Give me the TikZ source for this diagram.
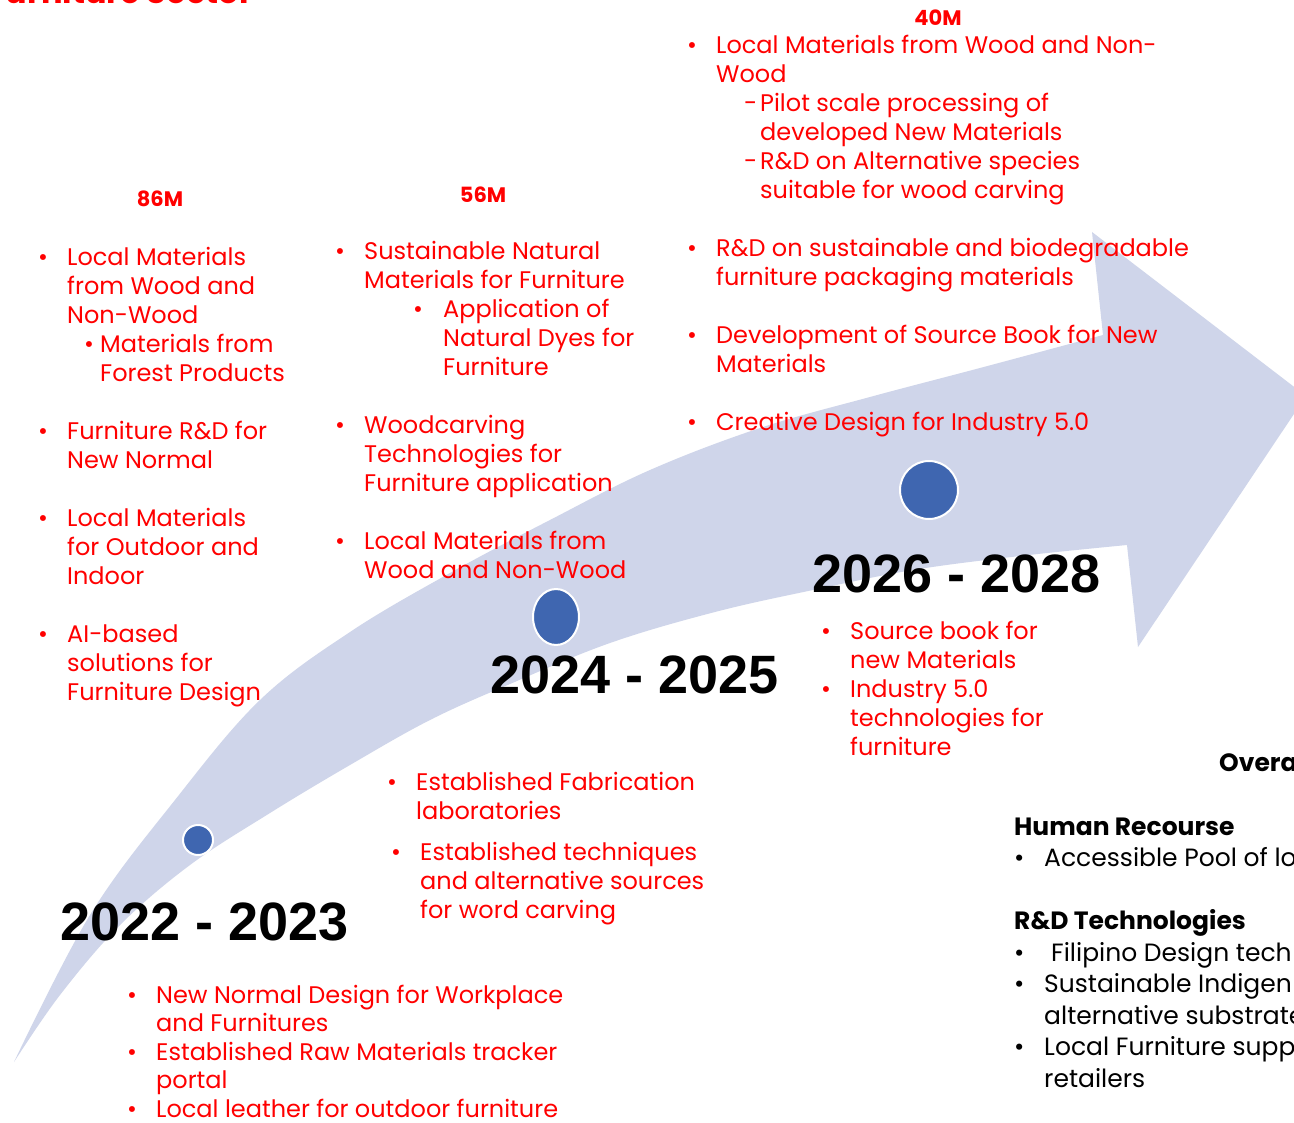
\documentclass[tikz,border=0pt]{standalone}
\usepackage{fontspec}
\setmainfont{Poppins}
\newfontfamily\yearfont{Liberation Sans}
\definecolor{SlideRed}{HTML}{FF0000}
\definecolor{ArrowFill}{HTML}{CFD5EA}
\definecolor{DotBlue}{HTML}{3F66B0}
\usepackage{xcolor}
\usepackage{tikz}
\usetikzlibrary{shapes.geometric}
\newcommand{\bul}{\makebox[25pt][l]{\hspace{-4pt}\textbullet}}

\begin{document}
\begin{tikzpicture}[x=1pt,y=-1pt,
  bodytext/.style={inner sep=0,anchor=base west,font=\fontsize{24}{29}\selectfont},
  redtext/.style={bodytext,text=SlideRed},
  blacktext/.style={bodytext,text=black,font=\fontsize{25}{31.5}\selectfont},
  budget/.style={inner sep=0,text=SlideRed,font=\bfseries\fontsize{21}{25}\selectfont},
  years/.style={inner sep=0,anchor=base west,font=\yearfont\bfseries\fontsize{54}{60}\selectfont},
  dot/.style={draw=white,line width=2pt,fill=DotBlue,inner sep=0}]
  \useasboundingbox (0,0) rectangle (1294,1123);
  \clip (0,0) rectangle (1294,1123);
  \fill[white] (0,0) rectangle (1294,1123);

  % Title (cut by the top edge)
  \node[inner sep=0,anchor=base east,text=SlideRed,font=\bfseries\fontsize{32}{36}\selectfont]
    (title) at (253,4) {Furniture Sector};

  % Curved timeline arrow
  \fill[ArrowFill]
    plot[smooth,tension=0.6] coordinates {(14,1062) (90,915) (175,800) (260,700)
      (350,632) (450,573) (550,520) (650,470) (760,428) (870,397) (980,368) (1103,335)}
    -- (1092,232) -- (1306,396) -- (1138,647) -- (1127,545)
    -- plot[smooth,tension=0.6] coordinates {(1127,545) (1020,556) (913,570) (813,590)
      (715,612) (610,643) (510,684) (430,720) (350,765) (270,813) (190,865)
      (120,925) (60,995) (14,1062)}
    -- cycle;

  % Markers
  \node[dot,circle,minimum size=30pt] (dot1) at (198,840) {};
  \node[dot,ellipse,minimum width=46pt,minimum height=56pt] (dot2) at (556,617) {};
  \node[dot,circle,minimum size=58pt] (dot3) at (929,490) {};

  % Years
  \node[years] (y22) at (60,940) {2022 - 2023};
  \node[years] (y24) at (490,693) {2024 - 2025};
  \node[years] (y26) at (812,592) {2026 - 2028};

  % Budgets
  \node[budget] (b86) at (160,199) {86M};
  \node[budget] (b56) at (483,195) {56M};
  \node[budget] (b40) at (938,18) {40M};

  % 86M column
  \node[redtext] (col86) at (42,266) {\begin{tabular}[t]{@{}l@{}l@{}}
    \bul & Local Materials\\
         & from Wood and\\
         & Non-Wood\\
         & \hspace{17pt}\makebox[16pt][l]{\textbullet}Materials from\\
         & \hspace{33pt}Forest Products\\
         & \\
    \bul & Furniture R\&D for\\
         & New Normal\\
         & \\
    \bul & Local Materials\\
         & for Outdoor and\\
         & Indoor\\
         & \\
    \bul & AI-based\\
         & solutions for\\
         & Furniture Design
  \end{tabular}};

  % 56M column
  \node[redtext] (col56) at (339,260) {\begin{tabular}[t]{@{}l@{}l@{}}
    \bul & Sustainable Natural\\
         & Materials for Furniture\\
         & \hspace{49pt}\makebox[30pt][l]{\textbullet}Application of\\
         & \hspace{79pt}Natural Dyes for\\
         & \hspace{79pt}Furniture\\
         & \\
    \bul & Woodcarving\\
         & Technologies for\\
         & Furniture application\\
         & \\
    \bul & Local Materials from\\
         & Wood and Non-Wood
  \end{tabular}};

  % 40M column
  \node[redtext] (col40) at (691,54) {\begin{tabular}[t]{@{}l@{}l@{}}
    \bul & Local Materials from Wood and Non-\\
         & Wood\\
         & \hspace{28pt}\makebox[16pt][l]{-}Pilot scale processing of\\
         & \hspace{44pt}developed New Materials\\
         & \hspace{28pt}\makebox[16pt][l]{-}R\&D on Alternative species\\
         & \hspace{44pt}suitable for wood carving\\
         & \\
    \bul & R\&D on sustainable and biodegradable\\
         & furniture packaging materials\\
         & \\
    \bul & Development of Source Book for New\\
         & Materials\\
         & \\
    \bul & Creative Design for Industry 5.0
  \end{tabular}};

  % Below 2026 - 2028
  \node[redtext] (out26) at (825,639) {\begin{tabular}[t]{@{}l@{}l@{}}
    \bul & Source book for\\
         & new Materials\\
    \bul & Industry 5.0\\
         & technologies for\\
         & furniture
  \end{tabular}};

  % Below 2024 - 2025
  \node[redtext] (out24a) at (391,790) {\begin{tabular}[t]{@{}l@{}l@{}}
    \bul & Established Fabrication\\
         & laboratories
  \end{tabular}};
  \node[redtext] (out24b) at (395,860) {\begin{tabular}[t]{@{}l@{}l@{}}
    \bul & Established techniques\\
         & and alternative sources\\
         & for word carving
  \end{tabular}};

  % Below 2022 - 2023
  \node[redtext,font=\fontsize{24}{28.5}\selectfont] (out22) at (131,1003) {\begin{tabular}[t]{@{}l@{}l@{}}
    \bul & New Normal Design for Workplace\\
         & and Furnitures\\
    \bul & Established Raw Materials tracker\\
         & portal\\
    \bul & Local leather for outdoor furniture\\[-8pt]
  \end{tabular}};

  % Overall (cut by the right edge)
  \node[blacktext,font=\bfseries\fontsize{25}{31.5}\selectfont] (overall) at (1219,771) {Overall};
  \node[blacktext] (overview) at (1014,835) {\begin{tabular}[t]{@{}l@{}l@{}}
    \multicolumn{2}{@{}l@{}}{\bfseries Human Recourse}\\
    \makebox[30pt][l]{\textbullet} & Accessible Pool of lo\\
    & \\
    \multicolumn{2}{@{}l@{}}{\bfseries R\&D Technologies}\\
    \makebox[30pt][l]{\textbullet} & \hspace{7pt}Filipino Design tech\\
    \makebox[30pt][l]{\textbullet} & Sustainable Indigen\\
    & alternative substrate\\
    \makebox[30pt][l]{\textbullet} & Local Furniture supp\\
    & retailers
  \end{tabular}};
\end{tikzpicture}
\end{document}
